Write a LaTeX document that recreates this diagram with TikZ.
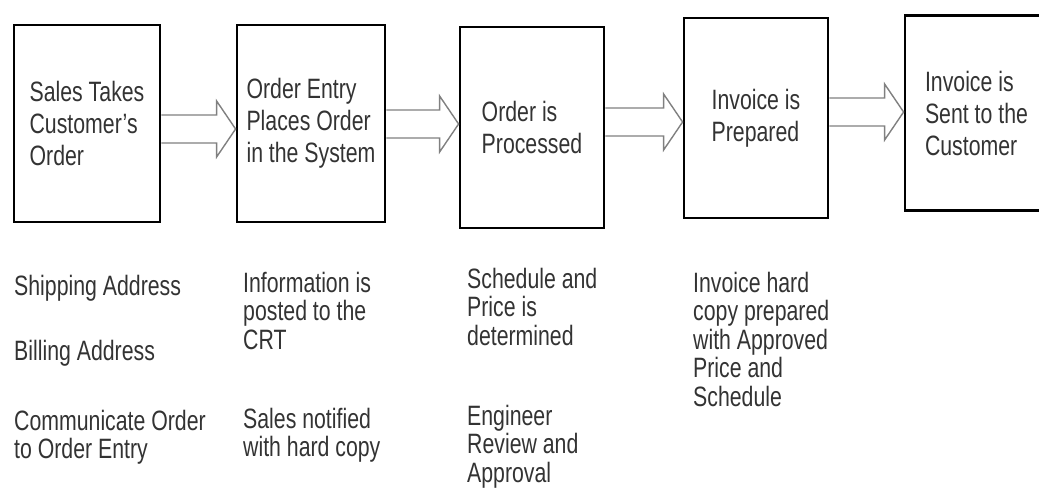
\documentclass[tikz,border=0pt]{standalone}
\usepackage{fontspec}
\setmainfont[FakeStretch=0.76]{Liberation Sans}
\usetikzlibrary{calc}
\tikzset{
  stage/.style={draw, line width=2.8pt, align=left, inner sep=0pt,
    font=\fontsize{28}{32}\selectfont, text=black!80},
  note/.style={anchor=north west, align=left, inner sep=0pt,
    font=\fontsize{28}{28.5}\selectfont, text=black!80},
  flow/.style={draw=black!50, line width=1.4pt, line join=miter}
}
\begin{document}
\begin{tikzpicture}[x=1pt,y=-1pt]
\useasboundingbox (0,0) rectangle (1039,495);
\node[stage, minimum width=146, minimum height=197] (b1) at (87,123.5) {Sales Takes\\Customer's\\Order};
\node[stage, minimum width=148, minimum height=197] (b2) at (311,123.5) {Order Entry\\Places Order\\in the System};
\node[stage, minimum width=144, minimum height=201] (b3) at (532,127.5) {Order is\\Processed};
\node[stage, minimum width=144, minimum height=200] (b4) at (756,118) {Invoice is\\Prepared};
\node[stage, minimum width=143, minimum height=195] (b5) at (976.5,113) {Invoice is\\Sent to the\\Customer};
% hollow arrows between the stages
\foreach \a/\b/\h in {b1/b2/129,b2/b3/124,b3/b4/122,b4/b5/112}
  \draw[flow] let \p1=(\a.east), \p2=(\b.west), \p3=(0,\h) in
    (\x1,\y3+14pt) -- (\x2-19pt,\y3+14pt) -- (\x2-19pt,\y3+28pt) -- (\x2,\y3)
    -- (\x2-19pt,\y3-28pt) -- (\x2-19pt,\y3-14pt) -- (\x1,\y3-14pt);
% notes under the stages
\node[note] (ship) at (14,275) {Shipping Address};
\node[note] (bill) at (14,340) {Billing Address};
\node[note] (comm) at (14,410) {Communicate Order\\to Order Entry};
\node[note] (info) at (243,272) {Information is\\posted to the\\CRT};
\node[note] (notif) at (243,408) {Sales notified\\with hard copy};
\node[note] (sched) at (467,268) {Schedule and\\Price is\\determined};
\node[note] (review) at (467,405) {Engineer\\Review and\\Approval};
\node[note] (inv) at (693,272) {Invoice hard\\copy prepared\\with Approved\\Price and\\Schedule};
\end{tikzpicture}
\end{document}
